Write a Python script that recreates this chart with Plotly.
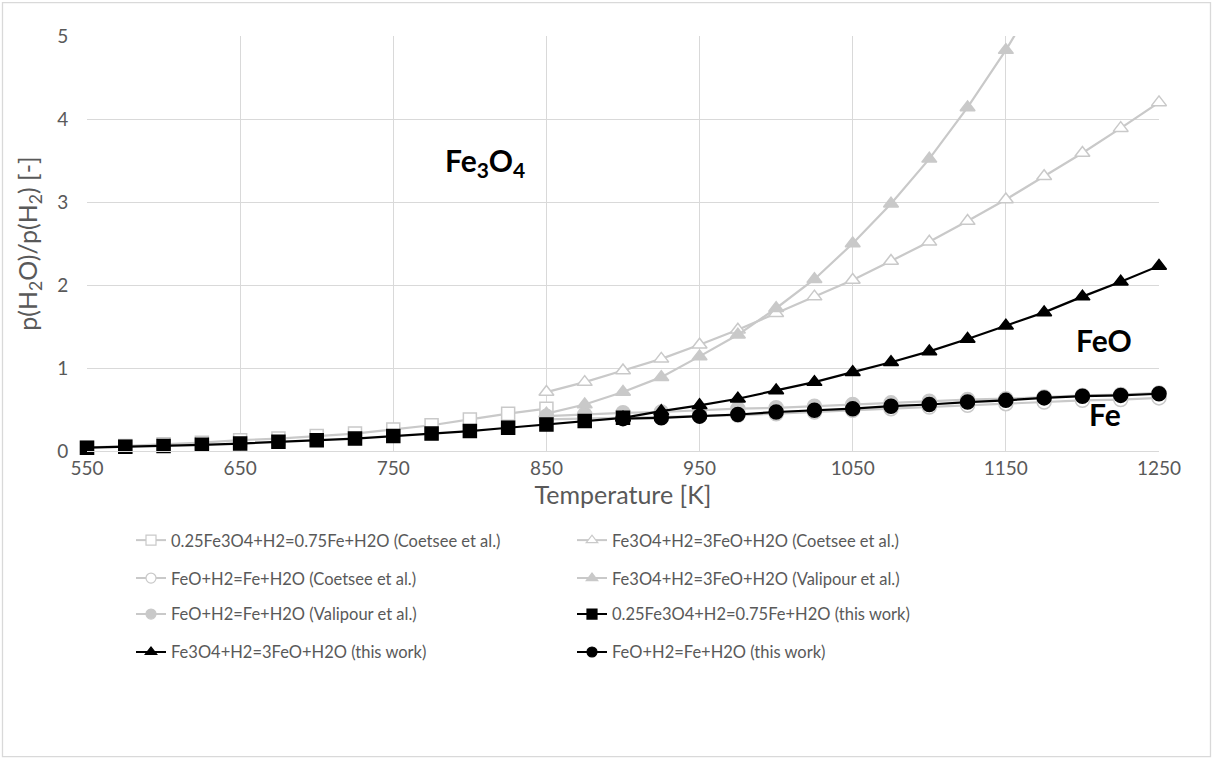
import plotly.graph_objects as go

# ---------------- data ----------------
T_fe3o4_fe_coetsee = [550, 575, 600, 625, 650, 675, 700, 725, 750, 775, 800, 825, 850]
r_fe3o4_fe_coetsee = [0.04, 0.06, 0.08, 0.10, 0.13, 0.15, 0.18, 0.21, 0.26, 0.31, 0.38, 0.45, 0.51]

T_high = [850, 875, 900, 925, 950, 975, 1000, 1025, 1050, 1075, 1100, 1125, 1150, 1175, 1200, 1225, 1250]
r_fe3o4_feo_coetsee = [0.71, 0.83, 0.97, 1.11, 1.28, 1.46, 1.66, 1.86, 2.06, 2.29, 2.52, 2.77, 3.03, 3.31, 3.59, 3.89, 4.20]
r_feo_fe_coetsee = [0.38, 0.39, 0.40, 0.41, 0.42, 0.43, 0.45, 0.47, 0.49, 0.51, 0.53, 0.55, 0.57, 0.59, 0.61, 0.62, 0.64]

T_fe3o4_feo_valipour = [850, 875, 900, 925, 950, 975, 1000, 1025, 1050, 1075, 1100, 1125, 1150, 1175]
r_fe3o4_feo_valipour = [0.45, 0.56, 0.71, 0.89, 1.14, 1.40, 1.72, 2.07, 2.50, 2.98, 3.52, 4.14, 4.83, 5.60]
r_feo_fe_valipour = [0.42, 0.44, 0.46, 0.47, 0.49, 0.51, 0.52, 0.54, 0.56, 0.58, 0.60, 0.62, 0.63, 0.65, 0.67, 0.68, 0.70]

T_fe3o4_fe_this = [550, 575, 600, 625, 650, 675, 700, 725, 750, 775, 800, 825, 850, 875, 900]
r_fe3o4_fe_this = [0.04, 0.05, 0.06, 0.075, 0.09, 0.11, 0.13, 0.15, 0.18, 0.21, 0.24, 0.28, 0.32, 0.36, 0.40]

T_this_high = [900, 925, 950, 975, 1000, 1025, 1050, 1075, 1100, 1125, 1150, 1175, 1200, 1225, 1250]
r_fe3o4_feo_this = [0.40, 0.48, 0.55, 0.63, 0.73, 0.83, 0.95, 1.07, 1.20, 1.35, 1.51, 1.67, 1.86, 2.04, 2.23]
r_feo_fe_this = [0.39, 0.40, 0.42, 0.44, 0.47, 0.49, 0.51, 0.54, 0.56, 0.59, 0.61, 0.64, 0.66, 0.67, 0.69]

names = [
    "0.25Fe3O4+H2=0.75Fe+H2O (Coetsee et al.)",
    "Fe3O4+H2=3FeO+H2O (Coetsee et al.)",
    "FeO+H2=Fe+H2O (Coetsee et al.)",
    "Fe3O4+H2=3FeO+H2O (Valipour et al.)",
    "FeO+H2=Fe+H2O (Valipour et al.)",
    "0.25Fe3O4+H2=0.75Fe+H2O (this work)",
    "Fe3O4+H2=3FeO+H2O (this work)",
    "FeO+H2=Fe+H2O (this work)",
]

x_ticks = [550, 650, 750, 850, 950, 1050, 1150, 1250]
y_ticks = [0, 1, 2, 3, 4, 5]

# ---------------- style ----------------
GRAY = "#c9c9c9"
BLACK = "#000000"
GRID = "#d9d9d9"
TXT = "#595959"
FONT = "Lato"

# plot area pixels
L, R, TOP, BOT = 87, 1159, 36, 451.5
W, H = 1213, 760


def px_x(p):
    return (p - L) / (R - L)


def px_y(p):
    return (BOT - p) / (BOT - TOP)


series = [
    (T_fe3o4_fe_coetsee, r_fe3o4_fe_coetsee, GRAY, "square", "white", "legend", False),
    (T_high, r_fe3o4_feo_coetsee, GRAY, "triangle-up", "white", "legend", False),
    (T_high, r_feo_fe_coetsee, GRAY, "circle", "white", "legend2", False),
    (T_fe3o4_feo_valipour, r_fe3o4_feo_valipour, GRAY, "triangle-up", GRAY, "legend2", True),
    (T_high, r_feo_fe_valipour, GRAY, "circle", GRAY, "legend3", False),
    (T_fe3o4_fe_this, r_fe3o4_fe_this, BLACK, "square", BLACK, "legend3", False),
    (T_this_high, r_fe3o4_feo_this, BLACK, "triangle-up", BLACK, "legend4", False),
    (T_this_high, r_feo_fe_this, BLACK, "circle", BLACK, "legend4", False),
]

fig = go.Figure()
# data traces
for (xs, ys, col, sym, fill, lg, clip), nm in zip(series, names):
    size = 14 if sym == "circle" else 13
    fig.add_trace(go.Scatter(
        x=xs, y=ys, name=nm, mode="lines+markers",
        line=dict(color=col, width=2.2),
        marker=dict(symbol=sym, size=size, color=fill, line=dict(color=col, width=1.5)),
        cliponaxis=clip, showlegend=False, hoverinfo="skip",
    ))
# legend entries (smaller symbols, as in the reference legend)
for (xs, ys, col, sym, fill, lg, clip), nm in zip(series, names):
    fig.add_trace(go.Scatter(
        x=[None], y=[None], name=nm, mode="lines+markers",
        line=dict(color=col, width=2),
        marker=dict(symbol=sym, size=10, color=fill, line=dict(color=col, width=1.2)),
        legend=lg, showlegend=True, hoverinfo="skip",
    ))

fig.update_xaxes(
    range=[550, 1250], tickvals=x_ticks, showgrid=True, gridcolor=GRID, gridwidth=1.3,
    zeroline=False, showline=True, linecolor=GRID, linewidth=1.3,
    tickfont=dict(family=FONT, size=19, color=TXT), ticks="", ticklen=0,
    title=dict(text="Temperature [K]", font=dict(family=FONT, size=25, color=TXT), standoff=8),
)
fig.update_yaxes(
    range=[0, 5], tickvals=y_ticks, showgrid=True, gridcolor=GRID, gridwidth=1.3,
    zeroline=False, showline=False,
    tickfont=dict(family=FONT, size=19, color=TXT), ticks="outside", ticklen=14,
    tickcolor="rgba(0,0,0,0)",
    title=dict(text="p(H<sub>2</sub>O)/p(H<sub>2</sub>) [-]", font=dict(family=FONT, size=25, color=TXT), standoff=12),
)

leg_common = dict(orientation="h", entrywidth=396, entrywidthmode="pixels",
                  font=dict(family=FONT, size=16.5, color=TXT), bgcolor="rgba(0,0,0,0)",
                  xanchor="left", yanchor="middle", x=px_x(131), tracegroupgap=0)
rows = [541, 579, 615, 653]
fig.update_layout(
    width=W, height=H,
    margin=dict(l=L, r=W - R, t=TOP, b=H - BOT),
    paper_bgcolor="white", plot_bgcolor="white",
    legend=dict(**leg_common, y=px_y(rows[0])),
    legend2=dict(**leg_common, y=px_y(rows[1])),
    legend3=dict(**leg_common, y=px_y(rows[2])),
    legend4=dict(**leg_common, y=px_y(rows[3])),
    showlegend=True,
)

ann_font = dict(family=FONT, size=30, color=BLACK)
fig.add_annotation(x=810, y=3.48, xref="x", yref="y", showarrow=False,
                   text="<b>Fe<sub>3</sub>O<sub>4</sub></b>", font=ann_font)
fig.add_annotation(x=1214, y=1.34, xref="x", yref="y", showarrow=False,
                   text="<b>FeO</b>", font=ann_font)
fig.add_annotation(x=1215, y=0.45, xref="x", yref="y", showarrow=False,
                   text="<b>Fe</b>", font=ann_font)

# chart-area border
fig.add_shape(type="rect", xref="paper", yref="paper",
              x0=px_x(2.5), x1=px_x(1210.5), y0=px_y(757.5), y1=px_y(2.5),
              line=dict(color=GRID, width=1.3), fillcolor="rgba(0,0,0,0)", layer="below")

fig.write_html("out.html", config={"displayModeBar": False},
               post_script="document.body.style.margin='0';document.body.style.overflow='hidden';")
